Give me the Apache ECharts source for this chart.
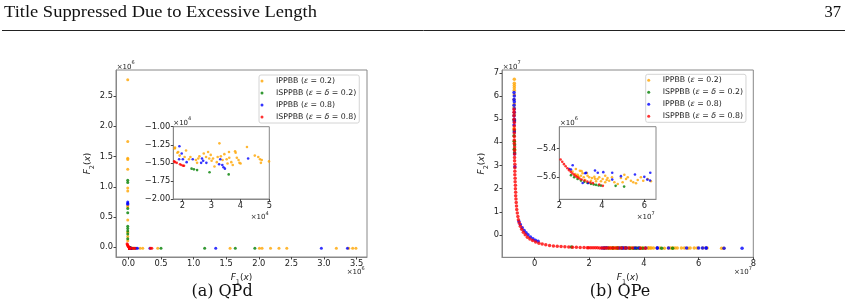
<!DOCTYPE html>
<html lang="en">
<head>
<meta charset="UTF-8">
<title>QPd / QPe</title>
<style>
    html, body, .canvas {
        margin: 0;
        padding: 0;
        width: 847px;
        height: 308px;
        background: #fff;
        overflow: hidden;
    }
</style>
</head>
<body>
<div class="canvas" id="chart"></div>
<script src="https://cdn.jsdelivr.net/npm/echarts@6/dist/echarts.min.js"></script>
<script>
// legend order: orange, green, blue, red
const names = ['IPPBB (ε = 0.2)', 'ISPPBB (ε = δ = 0.2)', 'IPPBB (ε = 0.8)', 'ISPPBB (ε = δ = 0.8)'];
const colors = ['#ffa500', '#008000', '#0000ff', '#ff0000'];

// ---- (a) QPd, main axes in units of 1e6 ----
const qpdOrange = [[-0.01, 2.77], [-0.01, 1.75], [-0.01, 1.47], [-0.01, 1.45], [-0.01, 1.29], [-0.01, 0.98], [-0.01, 0.93],
    [-0.01, 0.69], [-0.01, 0.67], [-0.01, 0.45], [-0.01, 0.25], [-0.01, 0.18], [-0.01, 0.11],
    [0.18, -0.015], [0.22, -0.015], [0.45, -0.015], [1.56, -0.015], [2.01, -0.015], [2.05, -0.015], [2.18, -0.015],
    [2.31, -0.015], [2.43, -0.015], [3.19, -0.015], [3.38, -0.015], [3.44, -0.015], [3.49, -0.015]];
const qpdGreen = [[-0.01, 1.11], [-0.01, 1.07], [-0.01, 0.64], [-0.01, 0.57], [-0.01, 0.35], [-0.01, 0.31], [-0.01, 0.27],
    [-0.01, 0.22], [-0.01, 0.14], [0.07, -0.015], [0.10, -0.015], [0.50, -0.015], [1.17, -0.015], [1.64, -0.015], [1.94, -0.015]];
const qpdBlue = [[-0.01, 0.75], [-0.01, 0.73], [-0.01, 0.71], [0.12, -0.015], [0.14, -0.015], [0.33, -0.015],
    [1.34, -0.015], [2.96, -0.015], [3.36, -0.015]];
const qpdRed = [[-0.02, 0.06], [-0.015, 0.045], [-0.01, 0.03], [-0.005, 0.02], [0.0, 0.01], [0.01, 0.0],
    [0.06, -0.015], [0.08, -0.015], [0.10, -0.015], [0.34, -0.015], [0.36, -0.015]];

// (a) inset, units of 1e4
const qpdZoomOrange = [[1.74, -1.30], [1.75, -1.29], [1.83, -1.36], [1.86, -1.35], [1.91, -1.40], [2.08, -1.42], [2.13, -1.33],
    [2.23, -1.45], [2.28, -1.42], [2.47, -1.46], [2.51, -1.50], [2.55, -1.44], [2.59, -1.41], [2.74, -1.37],
    [2.82, -1.42], [2.89, -1.35], [2.93, -1.44], [2.98, -1.39], [3.01, -1.47], [3.06, -1.44], [3.11, -1.55],
    [3.19, -1.49], [3.22, -1.42], [3.28, -1.23], [3.33, -1.41], [3.39, -1.46], [3.45, -1.38], [3.53, -1.45],
    [3.56, -1.51], [3.61, -1.35], [3.62, -1.43], [3.69, -1.49], [3.74, -1.53], [3.82, -1.34], [3.84, -1.36],
    [3.88, -1.43], [3.94, -1.46], [3.97, -1.50], [4.01, -1.51], [4.23, -1.28], [4.50, -1.40], [4.62, -1.42],
    [4.68, -1.45], [4.71, -1.50], [4.74, -1.46], [4.99, -1.48]];
const qpdZoomGreen = [[2.32, -1.58], [2.40, -1.59], [2.51, -1.60], [2.94, -1.63], [3.60, -1.66]];
const qpdZoomBlue = [[1.90, -1.27], [1.98, -1.37], [1.89, -1.45], [2.02, -1.45], [2.15, -1.49], [2.36, -1.45], [2.65, -1.50],
    [2.68, -1.44], [2.72, -1.47], [2.83, -1.50], [3.27, -1.52], [3.31, -1.45], [3.38, -1.53], [3.42, -1.56],
    [3.47, -1.58], [4.27, -1.44]];
const qpdZoomRed = [[1.72, -1.48], [1.75, -1.49], [1.81, -1.50], [1.92, -1.52], [1.97, -1.53], [2.03, -1.54], [2.06, -1.54]];

// ---- (b) QPe, main axes in units of 1e7 ----
const qpeOrange = [[-0.74, 6.72], [-0.74, 6.55], [-0.74, 6.45], [-0.74, 6.35], [-0.74, 6.25], [-0.74, 6.05], [-0.75, 5.85],
    [-0.74, 5.65], [-0.75, 5.5], [-0.74, 5.2], [-0.75, 4.6], [-0.74, 4.05], [-0.73, 3.7], [6.84, -0.565], [6.92, -0.565]];
const qpeGreen = [[-0.74, 4.95], [-0.74, 4.5], [-0.75, 4.28], [-0.74, 4.05], [-0.73, 3.9], [-0.74, 3.7], [-0.73, 3.55],
    [1.35, -0.52]];
const qpeBlue = [[-0.75, 6.15], [-0.74, 6.0], [-0.75, 5.85], [-0.74, 5.75], [-0.75, 5.6], [-0.74, 5.45], [-0.74, 5.3],
    [-0.75, 5.15], [-0.74, 5.0], [-0.74, 4.9], [-0.75, 4.75], [-0.74, 4.45], [-0.73, 3.5], [-0.72, 2.95],
    [-0.57, 0.58], [-0.52, 0.45], [-0.45, 0.32], [-0.38, 0.20], [-0.31, 0.10], [-0.24, 0.01], [-0.15, -0.08],
    [-0.06, -0.16], [0.03, -0.22], [0.13, -0.27], [6.93, -0.565], [7.59, -0.565]];
const qpeRed = [[-0.75, 5.42], [-0.75, 5.3], [-0.75, 5.15], [-0.75, 5.0], [-0.74, 4.85], [-0.74, 4.7], [-0.74, 4.55],
    [-0.74, 4.4], [-0.74, 4.25], [-0.74, 4.1], [-0.74, 3.95], [-0.73, 3.8], [-0.73, 3.65], [-0.73, 3.5], [-0.73, 3.35],
    [-0.73, 3.2], [-0.72, 3.05], [-0.72, 2.9], [-0.72, 2.75], [-0.72, 2.6], [-0.71, 2.45], [-0.71, 2.3], [-0.70, 2.15],
    [-0.70, 2.0], [-0.69, 1.85], [-0.69, 1.7], [-0.68, 1.55], [-0.67, 1.4], [-0.66, 1.25], [-0.65, 1.1], [-0.63, 0.95],
    [-0.61, 0.8], [-0.59, 0.66], [-0.56, 0.52], [-0.52, 0.38], [-0.47, 0.25], [-0.41, 0.12], [-0.34, 0.01],
    [-0.26, -0.09], [-0.17, -0.17], [-0.07, -0.24], [0.04, -0.30], [0.16, -0.35], [0.28, -0.39], [0.41, -0.42],
    [0.55, -0.45], [0.69, -0.47], [0.83, -0.485], [0.97, -0.497], [1.11, -0.507], [1.25, -0.515], [1.39, -0.522],
    [1.53, -0.529], [1.67, -0.535], [1.81, -0.54], [1.93, -0.544]];

// (b) inset: x in 1e7, y in 1e6
const qpeZoomOrange = [[2.62, -5.56], [2.75, -5.577], [2.78, -5.542], [2.86, -5.582], [2.87, -5.59], [2.91, -5.596],
    [2.97, -5.554], [3.02, -5.589], [3.05, -5.557], [3.10, -5.572], [3.15, -5.60], [3.22, -5.619], [3.30, -5.57],
    [3.33, -5.589], [3.41, -5.60], [3.49, -5.624], [3.54, -5.605], [3.65, -5.596], [3.68, -5.61], [3.73, -5.628],
    [3.80, -5.612], [3.88, -5.60], [3.96, -5.628], [4.04, -5.612], [4.16, -5.589], [4.16, -5.635], [4.23, -5.619],
    [4.27, -5.605], [4.35, -5.624], [4.48, -5.60], [4.59, -5.635], [4.75, -5.647], [4.90, -5.605], [4.98, -5.635],
    [5.06, -5.582], [5.14, -5.612], [5.22, -5.60], [5.37, -5.624], [5.48, -5.635], [5.61, -5.642], [5.69, -5.619],
    [5.84, -5.60], [5.95, -5.624], [6.16, -5.612], [6.31, -5.628]];
const qpeZoomGreen = [[2.55, -5.585], [2.70, -5.60], [2.86, -5.612], [3.02, -5.623], [3.18, -5.632], [3.33, -5.64],
    [3.49, -5.646], [3.62, -5.65], [3.73, -5.653], [3.85, -5.657], [3.96, -5.658], [4.65, -5.66], [5.05, -5.665]];
const qpeZoomBlue = [[2.47, -5.542], [2.55, -5.545], [2.63, -5.516], [3.10, -5.64], [3.22, -5.572], [3.26, -5.568],
    [3.36, -5.64], [3.68, -5.552], [3.81, -5.568], [4.07, -5.564], [4.49, -5.568], [4.49, -5.616], [4.90, -5.592],
    [5.56, -5.58], [6.0, -5.597], [6.14, -5.616], [6.27, -5.622], [6.28, -5.568]];
const qpeZoomRed = [[1.98, -5.455], [2.06, -5.475], [2.14, -5.492], [2.22, -5.508], [2.30, -5.523], [2.38, -5.537],
    [2.46, -5.55], [2.54, -5.562], [2.62, -5.573], [2.70, -5.583], [2.78, -5.592], [2.86, -5.60], [2.95, -5.608],
    [3.05, -5.615], [3.18, -5.622], [3.32, -5.63], [3.45, -5.636], [3.58, -5.641], [3.88, -5.65], [4.05, -5.66]];

// tick values
const qpdXTicks = [0, 0.5, 1, 1.5, 2, 2.5, 3, 3.5];
const qpdYTicks = [0, 0.5, 1, 1.5, 2, 2.5];
const qpdZoomXTicks = [2, 3, 4, 5];
const qpdZoomYTicks = [-2, -1.75, -1.5, -1.25, -1];
const qpeXTicks = [0, 2, 4, 6, 8];
const qpeYTicks = [0, 1, 2, 3, 4, 5, 6, 7];
const qpeZoomXTicks = [2, 4, 6];
const qpeZoomYTicks = [-5.6, -5.4];

const FONT = 'DejaVu Sans';
const TXT = '#222';

function fmt(v, dec) {
    return v.toFixed(dec).replace('-', '\u2212');
}

function valAxis(grid, min, max, ticks, dec, extra) {
    return Object.assign({
        type: 'value', gridIndex: grid, min: min, max: max, scale: true,
        axisLine: {show: true, onZero: false, lineStyle: {color: '#888', width: 1}},
        splitLine: {show: false},
        axisTick: {show: true, inside: false, length: 2.5, customValues: ticks, lineStyle: {color: '#444', width: 1}},
        axisLabel: {
            customValues: ticks, margin: 3, fontSize: 8.3, color: TXT, fontFamily: FONT,
            formatter: function (v) { return fmt(v, dec); }
        }
    }, extra || {});
}

const nameRich = {
    i: {fontFamily: FONT, fontStyle: 'italic', fontSize: 9, color: TXT, lineHeight: 13, verticalAlign: 'top'},
    n: {fontFamily: FONT, fontSize: 9, color: TXT, lineHeight: 13, verticalAlign: 'top'},
    s: {fontFamily: FONT, fontSize: 6.5, color: TXT, lineHeight: 6.5, verticalAlign: 'bottom'}
};

function axName(sub, gap) {
    return {
        name: '{i|F}{s|' + sub + '}{n|(}{i|x}{n|)}', nameLocation: 'middle', nameGap: gap,
        nameTextStyle: {rich: nameRich}
    };
}

function sc(name, color, data, idx, size) {
    return {
        type: 'scatter', name: name, xAxisIndex: idx, yAxisIndex: idx, data: data,
        symbol: 'circle', symbolSize: size, itemStyle: {color: color}, clip: true, silent: true
    };
}

// main plots also hold the inset points (converted to the main units)
const qpdMain = [qpdOrange, qpdGreen, qpdBlue, qpdRed];
const qpdZoom = [qpdZoomOrange, qpdZoomGreen, qpdZoomBlue, qpdZoomRed];
const qpeMain = [qpeOrange, qpeGreen, qpeBlue, qpeRed];
const qpeZoom = [qpeZoomOrange, qpeZoomGreen, qpeZoomBlue, qpeZoomRed];

const series = [];
for (let k = 0; k < 4; k++) {
    series.push(sc(names[k], colors[k], qpdMain[k].concat(qpdZoom[k].map(p => [p[0] / 100, p[1] / 100])), 0, 3));
}
for (let k = 0; k < 4; k++) series.push(sc(names[k], colors[k], qpdZoom[k], 1, 2.6));
for (let k = 0; k < 4; k++) {
    series.push(sc(names[k], colors[k], qpeMain[k].concat(qpeZoom[k].map(p => [p[0], p[1] / 10])), 2, 3.5));
}
for (let k = 0; k < 4; k++) series.push(sc(names[k], colors[k], qpeZoom[k], 3, 2.6));

function legend(left, top) {
    return {
        data: names, orient: 'vertical', left: left, top: top, icon: 'circle',
        itemWidth: 18, itemHeight: 3, itemGap: 2, padding: [1, 3, 1, 1.5],
        backgroundColor: 'rgba(255,255,255,0.85)', borderColor: '#d4d4d4', borderWidth: 1, borderRadius: 2,
        selectedMode: false,
        formatter: function (n) { return n.replace(/([εδ])/g, '{i|$1}'); },
        textStyle: {
            fontFamily: FONT, fontSize: 7.8, color: TXT, lineHeight: 10,
            rich: {i: {fontFamily: FONT, fontStyle: 'italic', fontSize: 7.8, color: TXT, lineHeight: 10}}
        }
    };
}

function expo(x, y, p) {
    return {
        type: 'text', x: x, y: y, silent: true,
        style: {
            text: '{b|×10}{s|' + p + '}', align: 'left', verticalAlign: 'middle', fill: TXT,
            rich: {
                b: {fontFamily: FONT, fontSize: 7, fill: TXT, lineHeight: 10, verticalAlign: 'bottom'},
                s: {fontFamily: FONT, fontSize: 5, fill: TXT, lineHeight: 5, verticalAlign: 'top'}
            }
        }
    };
}

function plainText(x, y, text, font, align, sx) {
    return {type: 'text', x: x, y: y, scaleX: sx || 1, silent: true,
        style: {text: text, font: font, fill: '#111', align: align, verticalAlign: 'middle'}};
}

const gridStyle = {show: true, borderColor: '#888', borderWidth: 1, backgroundColor: '#fff', containLabel: false};

const option = {
    animation: false,
    grid: [
        Object.assign({left: 116, top: 70, width: 251, height: 187}, gridStyle),
        Object.assign({left: 173.3, top: 126.7, width: 96, height: 72.3}, gridStyle),
        Object.assign({left: 502, top: 70, width: 251.3, height: 187.3}, gridStyle),
        Object.assign({left: 559.3, top: 126.7, width: 96.7, height: 72.6}, gridStyle)
    ],
    xAxis: [
        valAxis(0, -0.19, 3.66, qpdXTicks, 1, axName(1, 11)),
        valAxis(1, 1.69, 5.0, qpdZoomXTicks, 0),
        valAxis(2, -1.19, 8.0, qpeXTicks, 0, axName(1, 11)),
        valAxis(3, 2.0, 6.55, qpeZoomXTicks, 0)
    ],
    yAxis: [
        valAxis(0, -0.16, 2.93, qpdYTicks, 1, axName(2, 14)),
        valAxis(1, -2.0, -1.0, qpdZoomYTicks, 2),
        valAxis(2, -0.96, 7.12, qpeYTicks, 0, axName(2, 5)),
        valAxis(3, -5.754, -5.246, qpeZoomYTicks, 1)
    ],
    legend: [legend(259, 75), legend(645.7, 74.3)],
    series: series,
    graphic: [
        plainText(4, 12.8, 'Title Suppressed Due to Excessive Length', '16.5px "Liberation Serif"', 'left', 1.12),
        plainText(841, 12.8, '37', '16.5px "Liberation Serif"', 'right'),
        {type: 'line', silent: true, shape: {x1: 2, y1: 30.5, x2: 845, y2: 30.5}, style: {stroke: '#222', lineWidth: 1}},
        plainText(222, 292, '(a) QPd', '16px "DejaVu Serif"', 'center'),
        plainText(620, 292, '(b) QPe', '16px "DejaVu Serif"', 'center'),
        expo(116.7, 65.5, 6),
        expo(346.7, 271, 6),
        expo(502.7, 65.5, 7),
        expo(734, 271, 7),
        expo(173.3, 121.5, 4),
        expo(250.7, 216, 4),
        expo(560, 121.5, 6),
        expo(636.7, 216, 7)
    ]
};

const chart = echarts.init(document.getElementById('chart'), null, {renderer: 'canvas'});
chart.setOption(option);
</script>
</body>
</html>
